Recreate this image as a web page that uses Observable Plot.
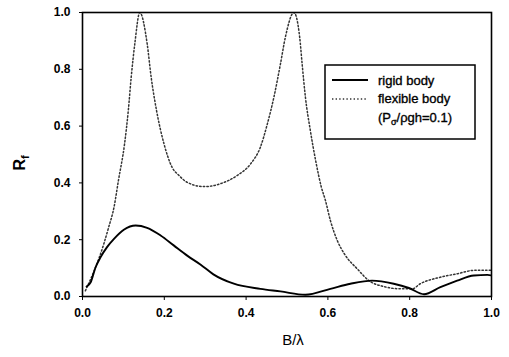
<!DOCTYPE html>
<html>
<head>
<meta charset="utf-8">
<script src="https://cdn.jsdelivr.net/npm/d3@7"></script>
<script src="https://cdn.jsdelivr.net/npm/@observablehq/plot@0.6"></script>
<style>
  html, body { margin: 0; padding: 0; background: #fff; }
  #chart { width: 509px; height: 357px; }
</style>
</head>
<body>
<div id="chart"></div>
<script>
// Rigid body (solid line)
const rigidX = [0.010,0.020,0.032,0.044,0.060,0.077,0.101,0.130,0.158,0.191,0.223,0.256,0.289,0.320,0.370,0.435,0.484,0.545,0.606,0.655,0.708,0.761,0.798,0.835,0.875,0.916,0.957,0.990,1.000];
const rigidY = [0.035,0.050,0.103,0.138,0.174,0.203,0.235,0.250,0.242,0.215,0.180,0.144,0.112,0.078,0.045,0.027,0.018,0.006,0.027,0.045,0.056,0.045,0.030,0.008,0.033,0.056,0.074,0.076,0.074];

// Flexible body (dotted line)
const flexX = [0.007,0.052,0.064,0.077,0.088,0.103,0.112,0.119,0.128,0.140,0.158,0.168,0.181,0.199,0.219,0.236,0.256,0.297,0.337,0.378,0.411,0.435,0.452,0.468,0.484,0.496,0.517,0.531,0.537,0.545,0.557,0.570,0.584,0.594,0.606,0.623,0.643,0.672,0.700,0.737,0.778,0.806,0.826,0.875,0.916,0.957,1.000];
const flexY = [0.020,0.185,0.244,0.314,0.410,0.539,0.655,0.771,0.891,1.000,0.891,0.771,0.655,0.539,0.455,0.426,0.402,0.387,0.397,0.426,0.467,0.526,0.608,0.702,0.819,0.913,1.000,0.913,0.819,0.702,0.585,0.479,0.385,0.338,0.268,0.197,0.144,0.097,0.056,0.035,0.027,0.027,0.045,0.068,0.080,0.092,0.092];

const xTicks = [0, 0.2, 0.4, 0.6, 0.8, 1.0];
const yTicks = [0, 0.2, 0.4, 0.6, 0.8, 1.0];
const legendLabels = ["rigid body", "flexible body"];

const rigid = rigidX.map((x, i) => ({x, y: rigidY[i]}));
const flex = flexX.map((x, i) => ({x, y: flexY[i]}));

const chart = Plot.plot({
  width: 509,
  height: 357,
  marginTop: 12,
  marginRight: 18,
  marginBottom: 61,
  marginLeft: 82,
  style: {fontFamily: "'Liberation Sans', Arial, sans-serif", fontSize: "12px", fontWeight: "bold", color: "#000", background: "#fff"},
  x: {domain: [0, 1], ticks: xTicks, tickFormat: d3.format(".1f"), label: null},
  y: {domain: [0, 1], ticks: yTicks, tickFormat: d3.format(".1f"), label: null},
  marks: [
    Plot.line(flex, {x: "x", y: "y", curve: "monotone-x", stroke: "#333", strokeWidth: 1.5, strokeDasharray: "1.4,2.2", clip: true}),
    Plot.line(rigid, {x: "x", y: "y", curve: "monotone-x", stroke: "#000", strokeWidth: 1.9, clip: true}),
    Plot.frame({stroke: "#000", strokeWidth: 1.6}),
    Plot.axisX({ticks: xTicks, tickFormat: d3.format(".1f"), tickSize: 4, tickPadding: 8, label: null}),
    Plot.axisY({ticks: yTicks, tickFormat: d3.format(".1f"), tickSize: 3, tickPadding: 9, label: null})
  ]
});
document.getElementById("chart").appendChild(chart);

const svg = d3.select(chart);
const font = "'Liberation Sans', Arial, sans-serif";

// Y axis title R_f
const yl = svg.append("text")
  .attr("transform", "translate(25,163) rotate(-90)")
  .attr("text-anchor", "middle")
  .attr("font-family", font).attr("font-size", 16).attr("font-weight", "bold").attr("fill", "#000");
yl.append("tspan").text("R");
yl.append("tspan").attr("font-size", 11).attr("dy", 4).text("f");

// X axis title
svg.append("text")
  .attr("x", 293).attr("y", 345)
  .attr("text-anchor", "middle")
  .attr("font-family", font).attr("font-size", 15).attr("font-weight", "normal").attr("fill", "#000")
  .text("B/λ");

// Legend
const lg = svg.append("g").attr("font-family", font).attr("font-size", 13)
  .attr("font-weight", "normal").attr("text-anchor", "start");
lg.append("rect").attr("x", 325).attr("y", 65).attr("width", 150).attr("height", 74)
  .attr("fill", "#fff").attr("stroke", "#000").attr("stroke-width", 1.5);
lg.append("line").attr("x1", 332).attr("x2", 368).attr("y1", 80).attr("y2", 80)
  .attr("stroke", "#000").attr("stroke-width", 1.9);
lg.append("line").attr("x1", 332).attr("x2", 366).attr("y1", 99).attr("y2", 99)
  .attr("stroke", "#333").attr("stroke-width", 1.5).attr("stroke-dasharray", "1.4,2.2");
lg.append("text").attr("x", 378).attr("y", 85).attr("fill", "#000")
  .attr("stroke", "#000").attr("stroke-width", 0.35).text(legendLabels[0]);
lg.append("text").attr("x", 378).attr("y", 103).attr("fill", "#000")
  .attr("stroke", "#000").attr("stroke-width", 0.35).text(legendLabels[1]);
const l3 = lg.append("text").attr("x", 378).attr("y", 122).attr("fill", "#000")
  .attr("stroke", "#000").attr("stroke-width", 0.35);
l3.append("tspan").text("(P");
l3.append("tspan").attr("font-size", 9).attr("dy", 3).text("σ");
l3.append("tspan").attr("dy", -3).text("/ρgh=0.1)");
</script>
</body>
</html>
